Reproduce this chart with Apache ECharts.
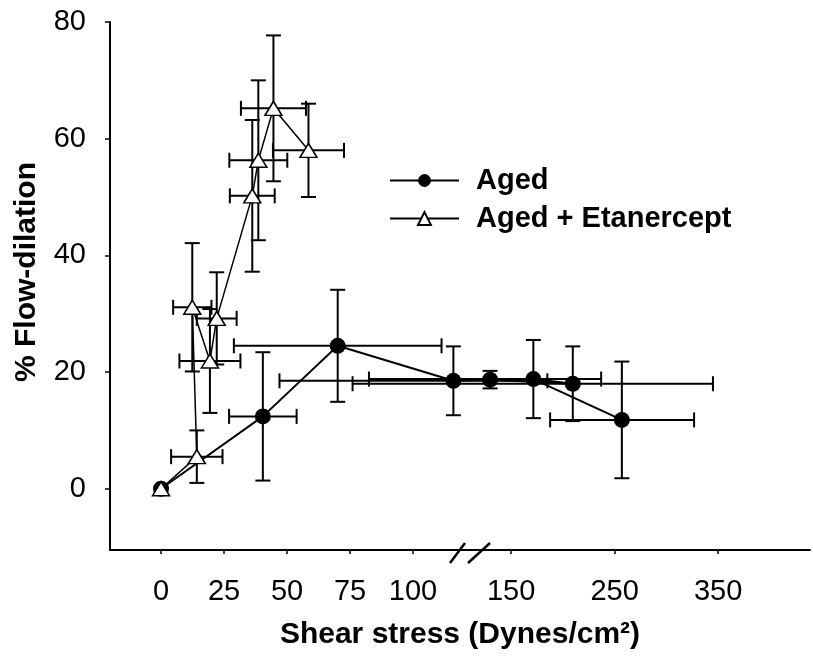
<!DOCTYPE html>
<html>
<head>
<meta charset="utf-8">
<script src="https://cdn.jsdelivr.net/npm/echarts@6/dist/echarts.min.js"></script>
<style>
html, body { margin: 0; background: #fff; }
#chart { width: 813px; height: 657px; }
</style>
</head>
<body>
<div id="chart"></div>
<script>
// Aged: shear stress, % flow-dilation, error bars
const agedX     = [0, 40.4, 70.1, 116, 129.7, 209.6, 171.5, 257];
const agedY     = [0, 12.4, 24.5, 18.5, 18.7, 18.0, 18.8, 11.8];
const agedYErr  = [0, 11, 9.6, 5.9, 1.5, 6.4, 6.7, 10];
const agedXLow  = [0, 27, 28.9, 47, 129.7, 76, 82.5, 187.7];
const agedXHigh = [0, 53.8, 111.3, 185, 129.7, 345, 237, 326.8];

// Aged + Etanercept
const etaX    = [0, 14.2, 12.4, 19.4, 22.1, 36.2, 38.6, 44.6, 58.5];
const etaY    = [0, 5.5, 31.1, 21.9, 29.2, 50.2, 56.3, 65.2, 58.0];
const etaYErr = [0, 4.5, 11, 8.9, 7.9, 13, 13.7, 12.5, 8];
const etaXErr = [0, 10.2, 7.6, 12.1, 7.9, 8.9, 11.5, 12.9, 14.1];

const xTicks = [0, 25, 50, 75, 100, 150, 250, 350];
const yTicks = [0, 20, 40, 60, 80];

// broken x axis: 0-120 linear, then 150.. compressed
const SPLIT = 120;
const RIGHT0 = 138.9, RIGHT_K = 0.4107;
function toAxis(v) { return v <= SPLIT ? v : RIGHT0 + (v - 150) * RIGHT_K; }
function fromAxis(a) { return a <= SPLIT + 0.5 ? a : 150 + (a - RIGHT0) / RIGHT_K; }
const BREAK_POS = 122.6;

const FONT = "'Liberation Sans', Arial, sans-serif";

function errRows(xs, ys, xlo, xhi, yerr) {
  return xs.map((x, i) => [toAxis(x), ys[i], toAxis(xlo[i]), toAxis(xhi[i]), ys[i] - yerr[i], ys[i] + yerr[i]]);
}
const agedErr = errRows(agedX, agedY, agedXLow, agedXHigh, agedYErr);
const etaErr = errRows(etaX, etaY,
  etaX.map((x, i) => x - etaXErr[i]), etaX.map((x, i) => x + etaXErr[i]), etaYErr);

function renderErr(params, api) {
  const cap = 7.5;
  const c = api.coord([api.value(0), api.value(1)]);
  const l = api.coord([api.value(2), api.value(1)]);
  const r = api.coord([api.value(3), api.value(1)]);
  const b = api.coord([api.value(0), api.value(4)]);
  const t = api.coord([api.value(0), api.value(5)]);
  const style = { stroke: '#000', lineWidth: 2 };
  const kids = [];
  if (Math.abs(t[1] - b[1]) > 1) {
    kids.push({ type: 'line', shape: { x1: c[0], y1: b[1], x2: c[0], y2: t[1] }, style });
    kids.push({ type: 'line', shape: { x1: c[0] - cap, y1: b[1], x2: c[0] + cap, y2: b[1] }, style });
    kids.push({ type: 'line', shape: { x1: c[0] - cap, y1: t[1], x2: c[0] + cap, y2: t[1] }, style });
  }
  if (Math.abs(r[0] - l[0]) > 1) {
    kids.push({ type: 'line', shape: { x1: l[0], y1: c[1], x2: r[0], y2: c[1] }, style });
    kids.push({ type: 'line', shape: { x1: l[0], y1: c[1] - cap, x2: l[0], y2: c[1] + cap }, style });
    kids.push({ type: 'line', shape: { x1: r[0], y1: c[1] - cap, x2: r[0], y2: c[1] + cap }, style });
  }
  return { type: 'group', children: kids };
}

const chart = echarts.init(document.getElementById('chart'));
chart.setOption({
  animation: false,
  backgroundColor: '#fff',
  grid: { left: 110, right: 3, top: 22, bottom: 107 },
  legend: {
    orient: 'vertical', left: 389, top: 166, padding: 0,
    itemWidth: 69, itemHeight: 16, itemGap: 9,
    data: ['Aged', 'Aged + Etanercept'],
    textStyle: { fontFamily: FONT, fontSize: 29, fontWeight: 'bold', color: '#000', padding: [0, 0, 0, 12] }
  },
  xAxis: {
    type: 'value', min: -20.25, max: 257.5,
    name: 'Shear stress (Dynes/cm²)', nameLocation: 'middle', nameGap: 70,
    nameTextStyle: { fontFamily: FONT, fontSize: 30, fontWeight: 'bold', color: '#000' },
    splitLine: { show: false },
    axisLine: { onZero: false, lineStyle: { color: '#000', width: 2 } },
    axisTick: { customValues: xTicks.map(toAxis), length: 4, lineStyle: { color: '#000', width: 1.5 } },
    axisLabel: {
      customValues: xTicks.map(toAxis), margin: 27,
      fontFamily: FONT, fontSize: 29, color: '#000',
      formatter: v => String(Math.round(fromAxis(v)))
    }
  },
  yAxis: {
    type: 'value', min: -10.5, max: 80,
    name: '% Flow-dilation', nameLocation: 'middle', nameGap: 68,
    nameTextStyle: { fontFamily: FONT, fontSize: 30, fontWeight: 'bold', color: '#000', padding: [0, 0, 0, 28] },
    splitLine: { show: false },
    axisLine: { onZero: false, lineStyle: { color: '#000', width: 2 } },
    axisTick: { customValues: yTicks, length: 5, lineStyle: { color: '#000', width: 1.5 } },
    axisLabel: { customValues: yTicks, margin: 24, fontFamily: FONT, fontSize: 29, color: '#000' }
  },
  series: [
    { type: 'custom', renderItem: renderErr, data: agedErr, encode: { x: 0, y: 1 }, z: 1, silent: true },
    { type: 'custom', renderItem: renderErr, data: etaErr, encode: { x: 0, y: 1 }, z: 1, silent: true },
    {
      type: 'custom', z: 1, silent: true, data: [[BREAK_POS, -10.5]],
      renderItem: (params, api) => {
        const p = api.coord([api.value(0), api.value(1)]);
        const style = { stroke: '#000', lineWidth: 2.5 };
        return { type: 'group', children: [
          { type: 'line', shape: { x1: p[0] - 20, y1: p[1] + 13, x2: p[0] - 5, y2: p[1] - 7 }, style },
          { type: 'line', shape: { x1: p[0] - 2, y1: p[1] + 13, x2: p[0] + 20, y2: p[1] - 7 }, style }
        ] };
      }
    },
    {
      name: 'Aged', type: 'line', z: 3,
      data: agedX.map((x, i) => [toAxis(x), agedY[i]]),
      symbol: 'circle', symbolSize: 16,
      itemStyle: { color: '#000' },
      lineStyle: { color: '#000', width: 2 }
    },
    {
      name: 'Aged + Etanercept', type: 'line', z: 4,
      data: etaX.map((x, i) => [toAxis(x), etaY[i]]),
      symbol: 'triangle', symbolSize: [17, 14],
      itemStyle: { color: '#fff', borderColor: '#000', borderWidth: 1.5 },
      lineStyle: { color: '#000', width: 1.5 }
    }
  ]
});
</script>
</body>
</html>
